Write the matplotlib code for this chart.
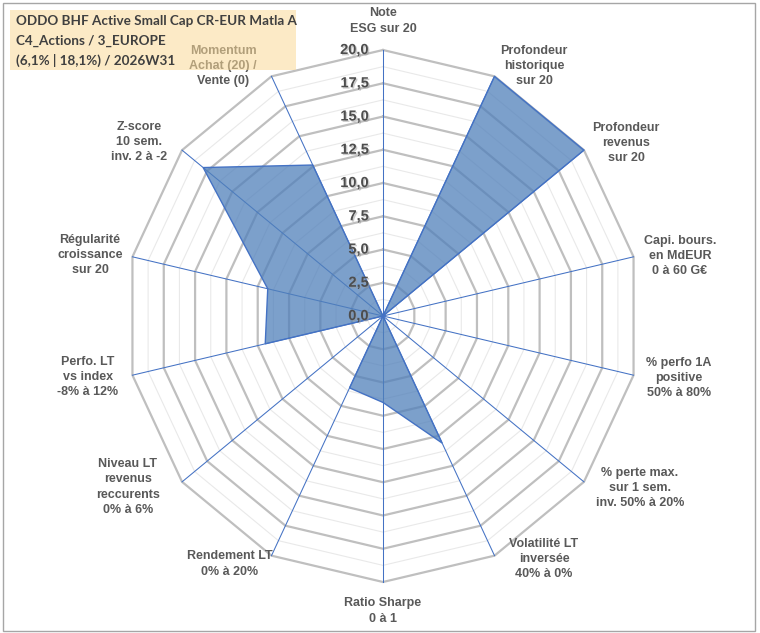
import numpy as np
import matplotlib
matplotlib.use("Agg")
import matplotlib.pyplot as plt
from matplotlib.patches import Rectangle, Polygon
import matplotlib.patheffects as pe

# ---------------- data ----------------
categories = [
    "Note\nESG sur 20",
    "Profondeur\nhistorique\nsur 20",
    "Profondeur\nrevenus\nsur 20",
    "Capi. bours.\nen MdEUR\n0 à 60 G€",
    "% perfo 1A\npositive\n50% à 80%",
    "% perte max.\nsur 1 sem.\ninv. 50% à 20%",
    "Volatilité LT\ninversée\n40% à 0%",
    "Ratio Sharpe\n0 à 1",
    "Rendement LT\n0% à 20%",
    "Niveau LT\nrevenus\nreccurents\n0% à 6%",
    "Perfo. LT\nvs index\n-8% à 12%",
    "Régularité\ncroissance\nsur 20",
    "Z-score\n10 sem.\ninv. 2 à -2",
    "Momentum\nAchat (20) /\nVente (0)",
]
values = [0, 20, 20, 0, 0, 0, 10.6, 6.5, 6.0, 0, 9.4, 9.2, 17.9, 12.6]
ticks = [0, 2.5, 5, 7.5, 10, 12.5, 15, 17.5, 20]
tick_labels = ["0,0", "2,5", "5,0", "7,5", "10,0", "12,5", "15,0", "17,5", "20,0"]
title_lines = ["ODDO BHF Active Small Cap CR-EUR Matla A",
               "C4_Actions / 3_EUROPE",
               "(6,1% | 18,1%) / 2026W31"]

# ---------------- layout ----------------
W, H = 760, 633
cx, cy = 383, 316          # centre in pixels
Rx, Ry = 257, 266          # pixel radius of the 20 ring
rmax = 20.0

fig = plt.figure(figsize=(W / 100, H / 100), dpi=100)
ax = fig.add_axes([(cx - Rx) / W, (H - cy - Ry) / H, 2 * Rx / W, 2 * Ry / H])
ax.set_xlim(-rmax, rmax)
ax.set_ylim(-rmax, rmax)
ax.axis("off")

n = len(categories)
ang = np.arange(n) * 2 * np.pi / n
sx, sy = np.sin(ang), np.cos(ang)

def ring(r):
    xs = np.append(r * sx, r * sx[0])
    ys = np.append(r * sy, r * sy[0])
    return xs, ys

# minor rings
for r in np.arange(1.25, 20, 2.5):
    xs, ys = ring(r)
    ax.plot(xs, ys, color="#E9E9E9", lw=0.8, zorder=1, clip_on=False)
# major rings
for r in ticks[1:]:
    xs, ys = ring(r)
    ax.plot(xs, ys, color="#BFBFBF", lw=1.6, zorder=2, clip_on=False)
# spokes
for i in range(n):
    ax.plot([0, rmax * sx[i]], [0, rmax * sy[i]], color="#4472C4", lw=0.75,
            zorder=3, clip_on=False)

# data polygon
v = np.array(values, dtype=float)
pts = np.column_stack([v * sx, v * sy])
ax.add_patch(Polygon(pts, closed=True, facecolor="#5080BA", alpha=0.75,
                     edgecolor="none", zorder=4, clip_on=False))
ax.add_patch(Polygon(pts, closed=True, facecolor="none", edgecolor="#4472C4",
                     lw=1.0, zorder=5, clip_on=False))

# radial tick labels
shadow = [pe.withSimplePatchShadow(offset=(1, -1), shadow_rgbFace="#999999",
                                   alpha=0.5)]
for t, lab in zip(ticks, tick_labels):
    ax.text(-1.1, t, lab, ha="right", va="center",
            fontsize=10.5, fontweight="bold", color="#4D4D4D",
            family="Liberation Sans", zorder=6, path_effects=shadow)

# category labels (pixel centres)
label_pos = [
    (383, 21), (534, 66), (626, 143), (680, 256), (679, 378), (640, 488),
    (544, 559), (383, 611), (230, 564), (128, 487), (88, 377), (90, 255),
    (139, 142), (223, 66),
]
for lab, (px, py) in zip(categories, label_pos):
    fig.text(px / W, 1 - py / H, lab, ha="center", va="center",
             fontsize=9, fontweight="bold", color="#595959",
             family="Liberation Sans", linespacing=1.35, zorder=6)

# title box (drawn over the momentum label)
fig.patches.append(Rectangle((10 / W, 1 - 70 / H), 286 / W, 60 / H,
                             transform=fig.transFigure, facecolor="#FBD997",
                             edgecolor="none", alpha=0.55, zorder=7))
for k, line in enumerate(title_lines):
    fig.text(16 / W, 1 - (21 + 19.5 * k) / H, line, ha="left", va="center",
             fontsize=9.7, fontweight="bold", color="#404040",
             family="Lato", zorder=8)

# outer border
fig.patches.append(Rectangle((3 / W, 2 / H), 752 / W, 628 / H,
                             transform=fig.transFigure, facecolor="none",
                             edgecolor="#A6A6A6", lw=1.0, zorder=9))

fig.savefig("out.png", dpi=100)
